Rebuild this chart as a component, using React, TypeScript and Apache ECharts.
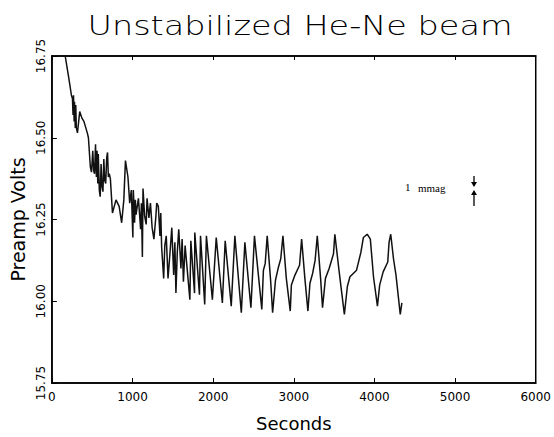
import React, { useEffect, useRef } from "react";
import * as echarts from "echarts";

const titleText = "Unstabilized He-Ne beam";
const xAxisName = "Seconds";
const yAxisName = "Preamp Volts";

const seconds = [
  165, 211, 242, 255, 262, 268, 276, 280, 290, 296, 303, 317, 345, 372, 397, 439, 453, 477, 491, 507,
  518, 529, 541, 552, 560, 569, 575, 588, 599, 610, 622, 633, 644, 655, 667, 680, 690, 700, 711, 725,
  751, 795, 834, 865, 892, 912, 943, 965, 985, 1004, 1010, 1025, 1035, 1044, 1073, 1100, 1110, 1122, 1130, 1150,
  1169, 1180, 1203, 1222, 1243, 1265, 1288, 1300, 1320, 1340, 1350, 1361, 1386, 1400, 1418, 1440, 1462, 1487, 1510, 1525,
  1538, 1555, 1573, 1600, 1615, 1631,
  1652, 1711, 1723, 1769, 1772, 1830, 1843, 1895, 1916, 1990, 2038, 2114, 2149, 2224, 2269, 2349, 2393, 2468, 2512, 2603,
  2623, 2645, 2670, 2712, 2737, 2773, 2805, 2838, 2865, 2907, 2956, 2970, 3014, 3071, 3097, 3137, 3175, 3200, 3233, 3264,
  3291, 3332, 3356, 3392, 3438, 3492, 3509, 3560, 3627, 3664, 3696, 3778, 3832, 3863, 3910, 3949, 3988, 4037, 4065, 4108,
  4165, 4181, 4202, 4236, 4267, 4320, 4340,
];

const volts = [
  16.75, 16.68, 16.63, 16.62, 16.57, 16.63, 16.55, 16.61, 16.53, 16.6, 16.53, 16.515, 16.58, 16.56, 16.55, 16.515, 16.5, 16.41, 16.395, 16.46,
  16.4, 16.39, 16.48, 16.38, 16.46, 16.36, 16.45, 16.34, 16.32, 16.42, 16.35, 16.335, 16.435, 16.37, 16.36, 16.44, 16.455, 16.38, 16.39, 16.375,
  16.27, 16.31, 16.29, 16.24, 16.31, 16.43, 16.38, 16.3, 16.34, 16.195, 16.34, 16.24, 16.31, 16.265, 16.315, 16.22, 16.3, 16.135, 16.345, 16.26,
  16.235, 16.315, 16.255, 16.3, 16.225, 16.19, 16.255, 16.3, 16.29, 16.2, 16.27, 16.165, 16.07, 16.17, 16.2, 16.07, 16.14, 16.225, 16.08, 16.18,
  16.025, 16.15, 16.22, 16.1, 16.19, 16.06,
  16.17, 16.005, 16.185, 16.025, 16.21, 16.02, 16.2, 15.99, 16.2, 16.005, 16.195, 15.995, 16.185, 15.985, 16.2, 15.965, 16.18, 15.98, 16.2, 15.975,
  16.095, 16.115, 16.2, 16.065, 15.965, 16.065, 16.1, 16.13, 16.2, 16.07, 15.97, 16.05, 16.08, 16.11, 16.19, 16.07, 15.97, 16.055, 16.085, 16.125,
  16.2, 16.07, 15.98, 16.07, 16.1, 16.145, 16.205, 16.095, 15.96, 16.045, 16.075, 16.095, 16.15, 16.195, 16.205, 16.19, 16.075, 15.985, 16.05, 16.09,
  16.12, 16.18, 16.205, 16.13, 16.08, 15.96, 15.995,
];

const xMin = 0;
const xMax = 6000;
const xStep = 1000;
const yMin = 15.75;
const yMax = 16.75;
const yStep = 0.25;

const annotationNumber = "1";
const annotationUnit = "mmag";

export default function App() {
  const ref = useRef<HTMLDivElement | null>(null);

  useEffect(() => {
    if (!ref.current) return;
    const chart = echarts.init(ref.current, undefined, { renderer: "svg" });
    const data = seconds.map((s, i) => [s, volts[i]]);
    const font = "DejaVu Sans";
    chart.setOption({
      animation: false,
      backgroundColor: "#fff",
      grid: {
        left: 51,
        right: 14,
        top: 56,
        bottom: 53,
        show: true,
        borderColor: "#000",
        borderWidth: 1.5,
      },
      xAxis: [
        {
          type: "value",
          min: xMin,
          max: xMax,
          interval: xStep,
          position: "bottom",
          name: xAxisName,
          nameLocation: "middle",
          nameGap: 31,
          nameTextStyle: { fontFamily: font, fontSize: 18, color: "#000" },
          axisLine: { show: true, lineStyle: { color: "#000", width: 1.5 } },
          axisTick: { show: true, inside: true, length: 5, lineStyle: { color: "#000" } },
          axisLabel: {
            fontFamily: font,
            fontSize: 12,
            color: "#000",
            margin: 8,
            formatter: (v: number) => String(v),
          },
          splitLine: { show: false },
        },
        {
          type: "value",
          min: xMin,
          max: xMax,
          interval: xStep,
          position: "top",
          axisLine: { show: true, lineStyle: { color: "#000", width: 1.5 } },
          axisTick: { show: true, inside: true, length: 4, lineStyle: { color: "#000" } },
          axisLabel: { show: false },
          splitLine: { show: false },
        },
      ],
      yAxis: {
        type: "value",
        min: yMin,
        max: yMax,
        interval: yStep,
        name: yAxisName,
        nameLocation: "middle",
        nameGap: 24,
        nameTextStyle: { fontFamily: font, fontSize: 19, color: "#000" },
        axisLine: { show: true, lineStyle: { color: "#000", width: 1.5 } },
        axisTick: { show: true, inside: true, length: 5, lineStyle: { color: "#000" } },
        axisLabel: {
          fontFamily: font,
          fontSize: 12,
          color: "#000",
          rotate: 90,
          margin: 5,
          formatter: (v: number) => v.toFixed(2),
        },
        splitLine: { show: false },
      },
      series: [
        {
          type: "line",
          data,
          showSymbol: false,
          symbol: "none",
          clip: true,
          lineStyle: { color: "#111", width: 1.5 },
        },
      ],
      graphic: [
        {
          type: "text",
          x: 300,
          y: 26,
          scaleX: 1.24,
          style: {
            text: titleText,
            fontFamily: font,
            fontWeight: 200,
            fontSize: 27,
            fill: "#000",
            align: "center",
            verticalAlign: "middle",
          },
        },
        {
          type: "text",
          x: 405,
          y: 187,
          style: {
            text: annotationNumber,
            fontFamily: "Liberation Serif",
            fontSize: 11,
            fill: "#000",
            align: "left",
            verticalAlign: "middle",
          },
        },
        {
          type: "text",
          x: 418,
          y: 188,
          style: {
            text: annotationUnit,
            fontFamily: "Liberation Serif",
            fontSize: 11,
            fill: "#000",
            align: "left",
            verticalAlign: "middle",
          },
        },
        {
          type: "line",
          shape: { x1: 474, y1: 176, x2: 474, y2: 184 },
          style: { stroke: "#000", lineWidth: 1.3 },
        },
        {
          type: "polygon",
          shape: { points: [[471, 182], [477, 182], [474, 187]] },
          style: { fill: "#000" },
        },
        {
          type: "line",
          shape: { x1: 474, y1: 193, x2: 474, y2: 206 },
          style: { stroke: "#000", lineWidth: 1.3 },
        },
        {
          type: "polygon",
          shape: { points: [[471, 195], [477, 195], [474, 190]] },
          style: { fill: "#000" },
        },
      ],
    });
    return () => {
      chart.dispose();
    };
  }, []);

  return (
    <div
      ref={ref}
      style={{ position: "absolute", left: 0, top: 0, width: 554, height: 437, background: "#fff" }}
    />
  );
}
